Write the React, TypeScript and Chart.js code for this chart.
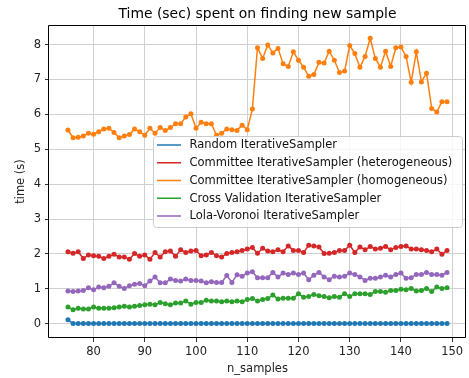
import React, { useEffect, useRef } from "react";
import { Chart, registerables } from "chart.js";

Chart.register(...registerables);

const nSamples = [
  75, 76, 77, 78, 79, 80, 81, 82, 83, 84, 85, 86, 87, 88, 89, 90, 91, 92, 93, 94,
  95, 96, 97, 98, 99, 100, 101, 102, 103, 104, 105, 106, 107, 108, 109, 110, 111, 112, 113, 114,
  115, 116, 117, 118, 119, 120, 121, 122, 123, 124, 125, 126, 127, 128, 129, 130, 131, 132, 133, 134,
  135, 136, 137, 138, 139, 140, 141, 142, 143, 144, 145, 146, 147, 148, 149,
];

const randomTimes = [
  0.11, 0.005, 0.005, 0.005, 0.005, 0.005, 0.005, 0.005, 0.005, 0.005,
  0.005, 0.005, 0.005, 0.005, 0.005, 0.005, 0.005, 0.005, 0.005, 0.005,
  0.005, 0.005, 0.005, 0.005, 0.005, 0.005, 0.005, 0.005, 0.005, 0.005,
  0.005, 0.005, 0.005, 0.005, 0.005, 0.005, 0.005, 0.005, 0.005, 0.005,
  0.005, 0.005, 0.005, 0.005, 0.005, 0.005, 0.005, 0.005, 0.005, 0.005,
  0.005, 0.005, 0.005, 0.005, 0.005, 0.005, 0.005, 0.005, 0.005, 0.005,
  0.005, 0.005, 0.005, 0.005, 0.005, 0.005, 0.005, 0.005, 0.005, 0.005,
  0.005, 0.005, 0.005, 0.005, 0.005,
];

const committeeHeteroTimes = [
  2.06, 2.02, 2.06, 1.87, 1.97, 1.95, 1.93, 1.87, 1.93, 1.99,
  1.91, 1.91, 1.85, 2.01, 1.93, 1.97, 1.85, 2.04, 1.91, 2.06,
  2.08, 1.93, 2.12, 2.04, 2.08, 2.10, 1.95, 1.97, 2.04, 1.95,
  1.91, 2.01, 2.04, 2.06, 2.10, 2.14, 2.18, 2.02, 2.16, 2.08,
  2.06, 2.12, 2.06, 2.23, 2.10, 2.10, 2.04, 2.25, 2.23, 2.20,
  2.01, 2.02, 2.04, 2.10, 2.10, 2.25, 2.04, 2.20, 2.12, 2.21,
  2.14, 2.16, 2.21, 2.12, 2.18, 2.21, 2.23, 2.14, 2.14, 2.12,
  2.10, 2.06, 2.14, 1.99, 2.10,
];

const committeeHomoTimes = [
  5.55, 5.33, 5.34, 5.38, 5.46, 5.43, 5.50, 5.58, 5.60, 5.48,
  5.33, 5.38, 5.42, 5.58, 5.50, 5.40, 5.60, 5.46, 5.62, 5.54,
  5.62, 5.73, 5.73, 5.92, 6.02, 5.60, 5.77, 5.73, 5.73, 5.40,
  5.46, 5.58, 5.56, 5.54, 5.69, 5.56, 6.15, 7.91, 7.60, 7.99,
  7.76, 7.89, 7.45, 7.37, 7.79, 7.55, 7.35, 7.09, 7.14, 7.49,
  7.47, 7.81, 7.55, 7.20, 7.24, 7.97, 7.74, 7.35, 7.66, 8.18,
  7.60, 7.35, 7.81, 7.37, 7.91, 7.93, 7.66, 6.92, 7.79, 6.93,
  7.18, 6.17, 6.07, 6.36, 6.36,
];

const crossValidationTimes = [
  0.48, 0.40, 0.44, 0.42, 0.42, 0.48, 0.44, 0.44, 0.44, 0.46,
  0.48, 0.50, 0.48, 0.50, 0.52, 0.54, 0.56, 0.54, 0.61, 0.57,
  0.54, 0.59, 0.59, 0.65, 0.56, 0.61, 0.61, 0.67, 0.65, 0.65,
  0.63, 0.65, 0.63, 0.65, 0.63, 0.69, 0.72, 0.65, 0.69, 0.72,
  0.82, 0.71, 0.73, 0.73, 0.73, 0.86, 0.76, 0.78, 0.84, 0.80,
  0.78, 0.74, 0.78, 0.76, 0.86, 0.78, 0.86, 0.86, 0.86, 0.84,
  0.92, 0.92, 0.90, 0.95, 0.95, 0.99, 0.97, 1.01, 0.94, 0.95,
  1.01, 0.92, 1.05, 1.01, 1.03,
];

const lolaVoronoiTimes = [
  0.94, 0.92, 0.94, 0.95, 1.03, 0.97, 1.05, 1.03, 1.07, 1.17,
  1.07, 1.01, 1.09, 1.13, 1.15, 1.09, 1.22, 1.34, 1.17, 1.17,
  1.28, 1.24, 1.22, 1.28, 1.24, 1.24, 1.22, 1.17, 1.20, 1.18,
  1.18, 1.38, 1.18, 1.40, 1.36, 1.45, 1.49, 1.32, 1.32, 1.32,
  1.47, 1.34, 1.45, 1.41, 1.45, 1.41, 1.45, 1.26, 1.39, 1.47,
  1.34, 1.26, 1.36, 1.34, 1.36, 1.45, 1.41, 1.34, 1.24, 1.30,
  1.30, 1.34, 1.39, 1.34, 1.41, 1.45, 1.30, 1.32, 1.41, 1.41,
  1.47, 1.41, 1.41, 1.39, 1.47,
];

const seriesLabels = [
  "Random IterativeSampler",
  "Committee IterativeSampler (heterogeneous)",
  "Committee IterativeSampler (homogeneous)",
  "Cross Validation IterativeSampler",
  "Lola-Voronoi IterativeSampler",
];
const seriesColors = ["#1f77b4", "#d62728", "#ff7f0e", "#2ca02c", "#9467bd"];

const chartTitle = "Time (sec) spent on finding new sample";
const xTickValues = [80, 90, 100, 110, 120, 130, 140, 150];
const yTickValues = [0, 1, 2, 3, 4, 5, 6, 7, 8];

const FONT = "'DejaVu Sans', 'Liberation Sans', sans-serif";
const FS = 11.5;

export default function App() {
  const canvasRef = useRef<HTMLCanvasElement | null>(null);

  useEffect(() => {
    const canvas = canvasRef.current;
    if (!canvas) return;
    const seriesValues = [
      randomTimes,
      committeeHeteroTimes,
      committeeHomoTimes,
      crossValidationTimes,
      lolaVoronoiTimes,
    ];

    const datasets = seriesLabels.map((label, i) => ({
      label,
      data: nSamples.map((x, j) => ({ x, y: seriesValues[i][j] })),
      borderColor: seriesColors[i],
      backgroundColor: seriesColors[i],
      pointBackgroundColor: seriesColors[i],
      pointBorderWidth: 0,
      pointRadius: 2.5,
      borderWidth: 1.5,
      tension: 0,
      order: seriesLabels.length - i,
    }));

    const spinePlugin = {
      id: "spines",
      afterDatasetsDraw(chart: any) {
        const { ctx, chartArea } = chart;
        const l = Math.round(chartArea.left) - 0.5;
        const t = Math.round(chartArea.top) + 0.5;
        const r = Math.round(chartArea.right) - 0.5;
        const b = Math.round(chartArea.bottom) - 0.5;
        ctx.save();
        ctx.strokeStyle = "#000";
        ctx.lineWidth = 1;
        ctx.beginPath();
        ctx.rect(l, t, r - l, b - t);
        ctx.stroke();
        ctx.restore();
      },
    };

    const titleAndLegendPlugin = {
      id: "mplTitleLegend",
      afterDraw(chart: any) {
        const ctx = chart.ctx as CanvasRenderingContext2D;
        const { chartArea } = chart;
        ctx.save();
        // title, centred over the axes
        ctx.font = `13.9px ${FONT}`;
        ctx.fillStyle = "#000";
        ctx.textAlign = "center";
        ctx.textBaseline = "alphabetic";
        ctx.fillText(chartTitle, (chartArea.left + chartArea.right) / 2, 17.8);

        // legend
        const x0 = 153.5, y0 = 136.5, w = 309, h = 91;
        ctx.beginPath();
        if ((ctx as any).roundRect) (ctx as any).roundRect(x0, y0, w, h, 3);
        else ctx.rect(x0, y0, w, h);
        ctx.fillStyle = "rgba(255,255,255,0.8)";
        ctx.fill();
        ctx.strokeStyle = "#cccccc";
        ctx.lineWidth = 1;
        ctx.stroke();
        ctx.font = `${FS}px ${FONT}`;
        ctx.textBaseline = "middle";
        ctx.textAlign = "left";
        seriesLabels.forEach((label, i) => {
          const cy = 145 + i * 17.75;
          ctx.strokeStyle = seriesColors[i];
          ctx.lineWidth = 1.5;
          ctx.beginPath();
          ctx.moveTo(157, cy);
          ctx.lineTo(181, cy);
          ctx.stroke();
          ctx.fillStyle = "#111";
          ctx.fillText(label, 189.5, cy + 0.5);
        });
        ctx.restore();
      },
    };

    const chart = new Chart(canvas, {
      type: "line",
      data: { datasets } as any,
      plugins: [spinePlugin, titleAndLegendPlugin],
      options: {
        animation: false,
        responsive: false,
        maintainAspectRatio: false,
        layout: { padding: { left: 0, right: 0, top: 25, bottom: 0 } },
        plugins: {
          legend: { display: false },
          tooltip: { enabled: false },
          title: { display: false },
        },
        scales: {
          x: {
            type: "linear",
            min: 71.3,
            max: 152.7,
            afterBuildTicks: (scale: any) => {
              scale.ticks = xTickValues.map((v) => ({ value: v }));
            },
            afterFit: (scale: any) => {
              scale.height = 40;
            },
            grid: {
              color: "#d0d0d0",
              lineWidth: 1,
              drawTicks: true,
              tickLength: 4,
              tickColor: "#333",
            },
            border: { display: false },
            ticks: {
              color: "#222",
              font: { family: FONT, size: FS },
              padding: 3,
              maxRotation: 0,
              autoSkip: false,
            },
            title: {
              display: true,
              text: "n_samples",
              color: "#222",
              font: { family: FONT, size: FS },
              padding: { top: 0, bottom: 2 },
            },
          },
          y: {
            type: "linear",
            min: -0.41,
            max: 8.56,
            afterBuildTicks: (scale: any) => {
              scale.ticks = yTickValues.map((v) => ({ value: v }));
            },
            afterFit: (scale: any) => {
              scale.width = 49;
            },
            grid: {
              color: "#d0d0d0",
              lineWidth: 1,
              drawTicks: true,
              tickLength: 4,
              tickColor: "#333",
            },
            border: { display: false },
            ticks: {
              color: "#222",
              font: { family: FONT, size: FS },
              padding: 4,
              autoSkip: false,
            },
            title: {
              display: true,
              text: "time (s)",
              color: "#222",
              font: { family: FONT, size: FS },
              padding: { top: 14, bottom: 0 },
            },
          },
        },
      } as any,
    });

    return () => {
      chart.destroy();
    };
  }, []);

  return (
    <div
      style={{
        position: "fixed",
        left: 0,
        top: 0,
        width: 469,
        height: 378,
        overflow: "hidden",
        background: "#fff",
      }}
    >
      <canvas
        ref={canvasRef}
        width={470}
        height={378}
        style={{ display: "block", width: 470, height: 378 }}
      />
    </div>
  );
}
